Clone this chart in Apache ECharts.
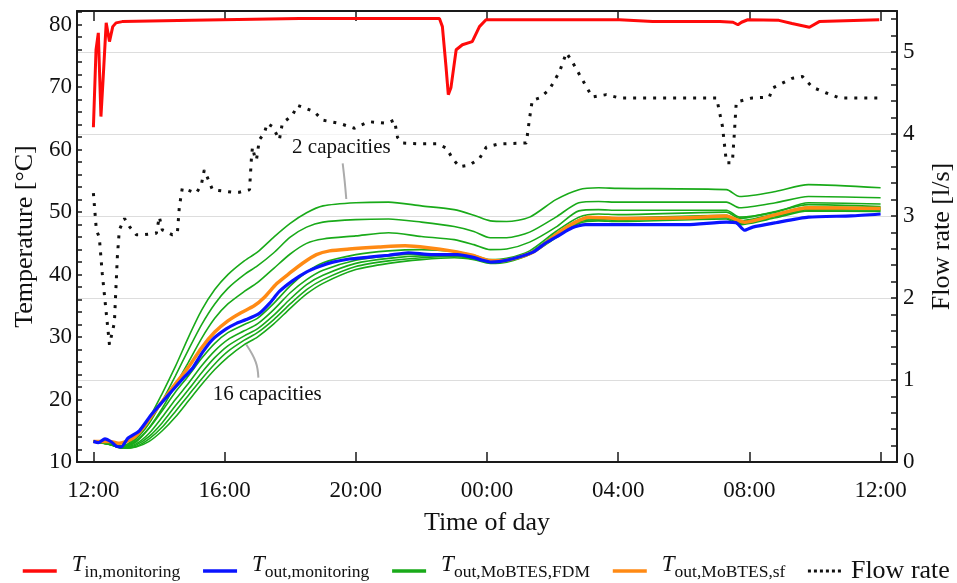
<!DOCTYPE html>
<html><head><meta charset="utf-8">
<script src="https://cdn.jsdelivr.net/npm/echarts@6/dist/echarts.min.js"></script>
<style>html,body{margin:0;padding:0;background:#fff}#c{width:957px;height:583px}</style>
</head><body><div id="c"></div>
<script>
// ---- tick labels ----
const xTickHours = [0, 4, 8, 12, 16, 20, 24];
const xTickLabels = ['12:00', '16:00', '20:00', '00:00', '04:00', '08:00', '12:00'];
const tempTicks = [10, 20, 30, 40, 50, 60, 70, 80];
const tempMinorTicks = [10,12,14,16,18,20,22,24,26,28,30,32,34,36,38,40,42,44,46,48,50,52,54,56,58,60,62,64,66,68,70,72,74,76,78,80,82];
const flowTicks = [0, 1, 2, 3, 4, 5];
const flowMinorTicks = [0,0.2,0.4,0.6,0.8,1,1.2,1.4,1.6,1.8,2,2.2,2.4,2.6,2.8,3,3.2,3.4,3.6,3.8,4,4.2,4.4,4.6,4.8,5,5.2,5.4];

// ---- T_in, monitoring (hours after 12:00, degC) ----
const hoursTin = [0,0.08,0.15,0.18,0.23,0.25,0.3,0.39,0.49,0.59,0.69,0.88,3,6.28,10.55,10.64,10.75,10.82,10.9,11.06,11.25,11.55,11.77,11.97,16.04,17.05,19.1,19.5,19.65,19.76,19.95,20.9,21.3,21.83,22.13,23.96];
const tIn = [63.6,76.0,78.7,78.7,65.3,65.3,71.7,80.3,77.3,79.7,80.3,80.5,80.7,81.0,81.0,79.7,73.3,68.8,69.9,76.0,76.8,77.3,79.7,80.8,80.8,80.5,80.5,80.4,80.0,80.4,80.8,80.7,80.2,79.6,80.5,80.8];

// ---- T_out, monitoring ----
const hoursTout = [0,0.15,0.35,0.55,0.7,0.85,1.05,1.4,1.77,2.1,2.4,2.77,3.02,3.32,3.63,4.05,4.36,4.66,5.06,5.37,5.67,6.07,6.49,6.89,7.3,7.8,8.4,9.0,9.6,10.3,11.1,11.55,11.86,12.13,12.6,13.4,13.8,14.2,14.6,15.0,16.0,18.1,19.3,19.6,19.85,20.1,20.8,21.8,23.1,24.0];
const tOut = [13.3,13.1,13.7,13.2,12.5,12.4,13.8,15.0,17.6,19.6,21.4,23.6,25.0,27.5,29.6,31.3,32.2,32.8,33.8,35.4,37.3,39.0,40.4,41.3,42.0,42.5,42.8,43.1,43.5,43.2,43.2,42.8,42.3,42.0,42.3,43.6,45.1,46.3,47.5,48.0,48.0,48.0,48.4,48.3,47.1,47.6,48.3,49.2,49.4,49.7];

// ---- T_out, MoBTES, sf ----
const hoursSf = [0,0.5,0.8,1.2,1.5,1.9,2.4,2.9,3.3,3.7,4.1,4.5,4.9,5.2,5.6,6.0,6.4,6.8,7.2,7.8,8.7,9.5,10.2,10.9,11.55,12.0,12.4,13.4,14.2,14.7,15.1,16.0,18.1,19.3,19.6,19.85,20.8,21.8,24.0];
const tSf = [13.3,13.3,13.0,13.8,15.4,18.3,21.8,25.2,28.3,30.8,32.6,33.9,35.0,36.3,38.6,40.3,41.9,43.2,43.8,44.1,44.4,44.6,44.3,43.8,43.1,42.3,42.2,43.6,46.8,48.4,49.2,49.0,49.1,49.4,48.8,48.4,49.6,50.7,50.6];

// ---- T_out, MoBTES, FDM (2 ... 16 capacities) ----
const hoursFdm = [0,0.5,0.9,1.3,1.7,2.1,2.5,2.9,3.3,3.7,4.1,4.6,5.0,5.5,6.0,6.5,7.0,8.0,9.0,10.0,11.0,11.6,12.1,12.6,13.3,14.1,14.8,15.4,16.0,19.3,19.7,20.8,21.8,24.0];
const fdm2  = [13.3,12.9,12.6,14.0,17.0,21.0,25.3,30.0,34.3,37.6,40.0,42.2,43.6,46.0,48.2,49.9,51.0,51.5,51.6,51.0,50.4,49.5,48.6,48.5,49.2,52.0,53.6,53.9,53.8,53.6,52.5,53.3,54.4,53.9];
const fdm4  = [13.3,12.9,12.5,13.7,16.2,19.8,23.8,28.0,32.0,35.3,37.8,40.0,41.4,43.5,46.0,47.6,48.4,48.8,48.9,48.4,47.7,46.9,45.9,45.9,46.8,49.2,51.5,51.7,51.6,51.6,50.7,51.5,52.5,52.3];
const fdm6  = [13.3,12.9,12.4,13.4,15.5,18.6,22.3,26.0,29.8,33.0,35.3,37.3,38.7,41.0,43.3,45.0,45.7,46.2,46.7,46.1,45.6,44.8,44.0,44.1,45.2,47.6,50.2,50.4,50.3,50.3,49.2,50.0,51.5,51.3];
const fdm8  = [13.3,12.9,12.4,13.2,15.4,18.2,21.2,23.8,26.6,29.0,30.7,32.0,33.0,35.4,38.2,40.4,41.9,43.2,43.8,44.0,43.7,43.1,42.4,42.6,43.8,46.9,49.2,49.7,49.6,50.0,49.0,50.1,51.2,50.9];
const fdm10 = [13.3,12.8,12.3,12.9,14.6,17.2,20.0,22.6,25.4,27.8,29.6,31.0,32.1,34.4,37.1,39.2,40.7,42.3,43.0,43.3,43.2,42.8,42.1,42.3,43.5,46.5,48.8,49.2,49.1,49.5,48.6,49.7,50.8,50.7];
const fdm12 = [13.3,12.8,12.2,12.7,14.1,16.3,19.0,21.6,24.3,26.7,28.6,30.2,31.3,33.5,36.1,38.4,39.9,41.8,42.6,43.0,43.0,42.6,42.0,42.2,43.4,46.3,48.6,49.0,48.9,49.3,48.4,49.5,50.6,50.5];
const fdm14 = [13.3,12.8,12.2,12.5,13.7,15.6,18.1,20.7,23.3,25.7,27.7,29.5,30.7,32.8,35.3,37.6,39.2,41.3,42.2,42.7,42.9,42.5,41.9,42.1,43.3,46.1,48.4,48.8,48.7,49.1,48.2,49.3,50.4,50.3];
const fdm16 = [13.3,12.8,12.2,12.4,13.3,15.0,17.2,19.8,22.4,24.8,26.8,28.8,30.0,32.1,34.6,36.9,38.6,40.8,41.8,42.4,42.7,42.4,41.8,42.0,43.2,45.9,48.2,48.6,48.5,48.9,48.0,49.1,50.2,50.1];

// ---- Flow rate (l/s) ----
const hoursFlow = [0,0.09,0.18,0.27,0.49,0.64,0.73,0.79,0.95,1.1,1.31,1.49,1.92,2.01,2.1,2.41,2.56,2.62,2.71,2.99,3.14,3.29,3.38,3.54,3.63,4.24,4.45,4.76,4.82,4.85,4.92,4.97,5.06,5.21,5.3,5.46,5.67,5.76,6.07,6.22,6.49,6.74,6.98,7.5,7.96,8.17,8.41,8.93,9.18,9.27,9.42,9.94,10.46,10.76,10.95,11.16,11.46,11.77,11.98,12.38,13.2,13.29,13.38,13.6,13.9,14.21,14.42,14.6,14.91,15.21,15.64,16.04,19.0,19.18,19.3,19.48,19.54,19.6,20.09,20.61,20.7,21.31,21.62,21.92,22.35,22.74,23.96];
const flow = [3.28,2.83,2.74,2.30,1.43,1.70,2.50,2.83,2.97,2.87,2.77,2.77,2.79,2.99,2.83,2.77,2.79,3.11,3.34,3.30,3.28,3.38,3.56,3.41,3.32,3.29,3.29,3.32,3.72,3.84,3.72,3.68,3.93,4.01,4.13,4.09,3.93,4.13,4.23,4.35,4.31,4.27,4.17,4.13,4.07,4.11,4.15,4.13,4.17,3.96,3.89,3.88,3.88,3.83,3.70,3.60,3.62,3.70,3.84,3.88,3.89,4.17,4.41,4.44,4.54,4.76,4.99,4.88,4.66,4.45,4.48,4.44,4.44,4.09,3.65,3.65,4.00,4.39,4.44,4.45,4.56,4.68,4.70,4.57,4.50,4.44,4.44];

// ---- annotations (data coordinates) ----
const note2Text = '2 capacities';
const note2Pos = [7.56, 60.3];
const note2Leader = [[7.6, 57.8], [7.66, 55], [7.71, 52.1]];
const note16Text = '16 capacities';
const note16Pos = [5.3, 20.8];
const note16Leader = [[4.66, 28.8], [4.95, 26.0], [5.03, 23.5]];

const FONT = '"Liberation Serif", "Times New Roman", serif';
const zip = (xs, ys) => xs.map((x, i) => [x, ys[i]]);
const GREEN = '#19aa19';

const fdmSets = [fdm2, fdm4, fdm6, fdm8, fdm10, fdm12, fdm14, fdm16];

const series = [];
series.push({
  name: 'Flow rate', type: 'line', xAxisIndex: 0, yAxisIndex: 1,
  data: zip(hoursFlow, flow), symbol: 'none', z: 2,
  lineStyle: { color: '#111', width: 3, type: [3, 7], cap: 'butt' }, itemStyle: { color: '#111' }
});
fdmSets.forEach(arr => series.push({
  name: 'FDM', type: 'line', yAxisIndex: 0, data: zip(hoursFdm, arr),
  symbol: 'none', smooth: 0.25, z: 3,
  lineStyle: { color: GREEN, width: 1.6 }, itemStyle: { color: GREEN }
}));
series.push({
  name: 'sf', type: 'line', yAxisIndex: 0, data: zip(hoursSf, tSf),
  symbol: 'none', smooth: 0.25, z: 4,
  lineStyle: { color: '#ff8a14', width: 3.5 }, itemStyle: { color: '#ff8a14' }
});
series.push({
  name: 'Tout', type: 'line', yAxisIndex: 0, data: zip(hoursTout, tOut),
  symbol: 'none', smooth: 0.2, z: 5,
  lineStyle: { color: '#0a14ff', width: 3.2 }, itemStyle: { color: '#0a14ff' }
});
series.push({
  name: 'Tin', type: 'line', yAxisIndex: 0, data: zip(hoursTin, tIn),
  symbol: 'none', z: 6,
  lineStyle: { color: '#ff0a0a', width: 3 }, itemStyle: { color: '#ff0a0a' }
});

const legendNames = {
  'Tin': '{t|T}{s|in,monitoring}',
  'Tout': '{t|T}{s|out,monitoring}',
  'FDM': '{t|T}{s|out,MoBTES,FDM}',
  'sf': '{t|T}{s|out,MoBTES,sf}',
  'Flow rate': '{n|Flow rate}'
};

const axisLineStyle = { color: '#1a1a1a', width: 2 };
const labelStyle = { color: '#111', fontFamily: FONT, fontSize: 23 };
const nameStyle = { color: '#111', fontFamily: FONT, fontSize: 26 };

const chart = echarts.init(document.getElementById('c'), null, { renderer: 'canvas' });
chart.setOption({
  animation: false,
  backgroundColor: '#fff',
  grid: { left: 77, right: 60, top: 11, bottom: 121, containLabel: false, outerBoundsMode: 'none' },
  xAxis: [{
    type: 'value', position: 'bottom', min: -0.5, max: 24.5,
    axisLine: { show: true, onZero: false, lineStyle: axisLineStyle },
    axisTick: { show: true, inside: true, length: 10, customValues: xTickHours, lineStyle: { color: '#1a1a1a', width: 1.5 } },
    axisLabel: { show: true, customValues: xTickHours, margin: 17, ...labelStyle,
      formatter: v => xTickLabels[xTickHours.indexOf(v)] || '' },
    splitLine: { show: false },
    name: 'Time of day', nameLocation: 'middle', nameGap: 48, nameTextStyle: nameStyle
  }, {
    type: 'value', position: 'top', min: -0.5, max: 24.5,
    axisLine: { show: true, onZero: false, lineStyle: axisLineStyle },
    axisTick: { show: true, inside: true, length: 10, customValues: xTickHours, lineStyle: { color: '#1a1a1a', width: 1.5 } },
    axisLabel: { show: false }, splitLine: { show: false }
  }],
  yAxis: [{
    type: 'value', position: 'left', min: 10, max: 82.2,
    axisLine: { show: true, onZero: false, lineStyle: axisLineStyle },
    axisTick: { show: true, inside: true, length: 5, customValues: tempMinorTicks, lineStyle: { color: '#1a1a1a', width: 1.5 } },
    axisLabel: { show: true, customValues: tempTicks, margin: 5, ...labelStyle },
    splitLine: { show: false },
    name: 'Temperature [°C]', nameLocation: 'middle', nameGap: 39, nameRotate: 90, nameTextStyle: nameStyle
  }, {
    type: 'value', position: 'right', min: 0, max: 5.5,
    axisLine: { show: true, onZero: false, lineStyle: axisLineStyle },
    axisTick: { show: true, inside: true, length: 6, customValues: flowMinorTicks, lineStyle: { color: '#1a1a1a', width: 1.5 } },
    axisLabel: { show: true, customValues: flowTicks, margin: 6, ...labelStyle },
    splitLine: { show: false },
    name: 'Flow rate [l/s]', nameLocation: 'middle', nameGap: 32, nameRotate: 90, nameTextStyle: nameStyle
  }, {
    type: 'value', position: 'right', min: 0, max: 5.5, interval: 1,
    axisLine: { show: false }, axisTick: { show: false }, axisLabel: { show: false },
    splitLine: { show: true, lineStyle: { color: '#dddddd', width: 1.2 } }
  }],
  legend: {
    data: [
      { name: 'Tin' }, { name: 'Tout' }, { name: 'FDM' }, { name: 'sf' },
      { name: 'Flow rate', lineStyle: { type: [3, 3], width: 3 } }
    ],
    left: 16, top: 548, itemWidth: 34, itemHeight: 14, itemGap: 21,
    itemStyle: { opacity: 0 },
    lineStyle: { width: 3.5 },
    formatter: n => legendNames[n],
    textStyle: {
      color: '#111', fontFamily: FONT, fontSize: 20,
      rich: {
        t: { fontFamily: FONT, fontSize: 23, fontStyle: 'italic', color: '#111', lineHeight: 24, verticalAlign: 'top', padding: [0, 0, 0, 10] },
        s: { fontFamily: FONT, fontSize: 17.5, color: '#111', lineHeight: 36, verticalAlign: 'top', padding: [10, 0, 0, 0] },
        n: { fontFamily: FONT, fontSize: 26, color: '#111', lineHeight: 26, verticalAlign: 'top', padding: [0, 0, 0, 4] }
      }
    }
  },
  series: series
});

function px(p) { return chart.convertToPixel({ xAxisIndex: 0, yAxisIndex: 0 }, p); }
const p2 = px(note2Pos), p16 = px(note16Pos);
chart.setOption({
  graphic: [
    { type: 'polyline', z: 50, shape: { points: note2Leader.map(px), smooth: 0.4 }, style: { stroke: '#ababab', lineWidth: 2, fill: null } },
    { type: 'polyline', z: 50, shape: { points: note16Leader.map(px), smooth: 0.4 }, style: { stroke: '#ababab', lineWidth: 2, fill: null } },
    { type: 'text', z: 60, x: p2[0], y: p2[1], style: { text: note2Text, font: '21px ' + FONT, fill: '#111', align: 'center', verticalAlign: 'middle', backgroundColor: 'rgba(255,255,255,0.9)', padding: [3, 5] } },
    { type: 'text', z: 60, x: p16[0], y: p16[1], style: { text: note16Text, font: '21px ' + FONT, fill: '#111', align: 'center', verticalAlign: 'middle', backgroundColor: 'rgba(255,255,255,0.9)', padding: [3, 5] } }
  ]
});
</script>
</body></html>
